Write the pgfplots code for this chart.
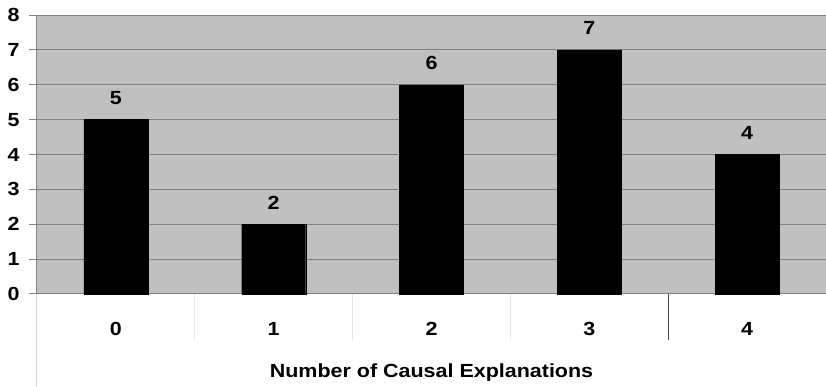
\documentclass[border=0pt]{standalone}
\usepackage{fontspec}
\setmainfont{Liberation Sans}[FakeStretch=1.13]
\usepackage{pgfplots}
\pgfplotsset{compat=1.18}
\definecolor{plotbg}{HTML}{C0C0C0}
\definecolor{gridgray}{HTML}{808080}
\definecolor{sepgray}{HTML}{E6E6E6}
\definecolor{sepdark}{HTML}{404040}
\newcommand{\chartfont}{\bfseries\fontsize{19}{19}\selectfont}
\begin{document}
\begin{tikzpicture}
\useasboundingbox (-37pt,-93pt) rectangle (789pt,294pt);
\begin{axis}[
  scale only axis,
  width=789pt, height=279pt,
  xmin=-0.5, xmax=4.5,
  ymin=0, ymax=8,
  clip=false,
  axis background/.style={fill=plotbg},
  axis lines*=left,
  axis line style={draw=gridgray, line width=1pt},
  xtick={0,1,2,3,4},
  xticklabels={0,1,2,3,4},
  ytick={0,1,2,3,4,5,6,7,8},
  ymajorgrids,
  major grid style={draw=gridgray, line width=1pt},
  tick align=outside,
  major tick length=8pt,
  ytick style={draw=gridgray, line width=1pt},
  xtick style={draw=none},
  /pgf/number format/assume math mode=true,
  ticklabel style={font=\chartfont},
  xticklabel style={anchor=base, yshift=-34pt},
  yticklabel style={anchor=east, xshift=-6pt},
  xlabel={Number of Causal Explanations},
  xlabel style={font=\chartfont,
    at={(axis description cs:0.5,0)}, anchor=base, yshift=-83pt},
  ybar,
  bar width=64pt,
  nodes near coords,
  every node near coord/.append style={font=\chartfont, anchor=base, yshift=15pt},
]
\addplot[fill=black, draw=black] coordinates {(0,5) (1,2) (2,6) (3,7) (4,4)};
% category separators below the axis
\draw[sepgray, line width=0.8pt] (axis cs:0.5,0) -- ([yshift=-46pt]axis cs:0.5,0);
\draw[sepgray, line width=0.8pt] (axis cs:1.5,0) -- ([yshift=-46pt]axis cs:1.5,0);
\draw[sepgray, line width=0.8pt] (axis cs:2.5,0) -- ([yshift=-46pt]axis cs:2.5,0);
\draw[sepdark, line width=1pt] (axis cs:3.5,0) -- ([yshift=-46pt]axis cs:3.5,0);
% outer frame line on the left
\draw[sepgray!80!gray, line width=1pt] (axis cs:-0.5,0) -- ([yshift=-93pt]axis cs:-0.5,0);
\end{axis}
\end{tikzpicture}
\end{document}
